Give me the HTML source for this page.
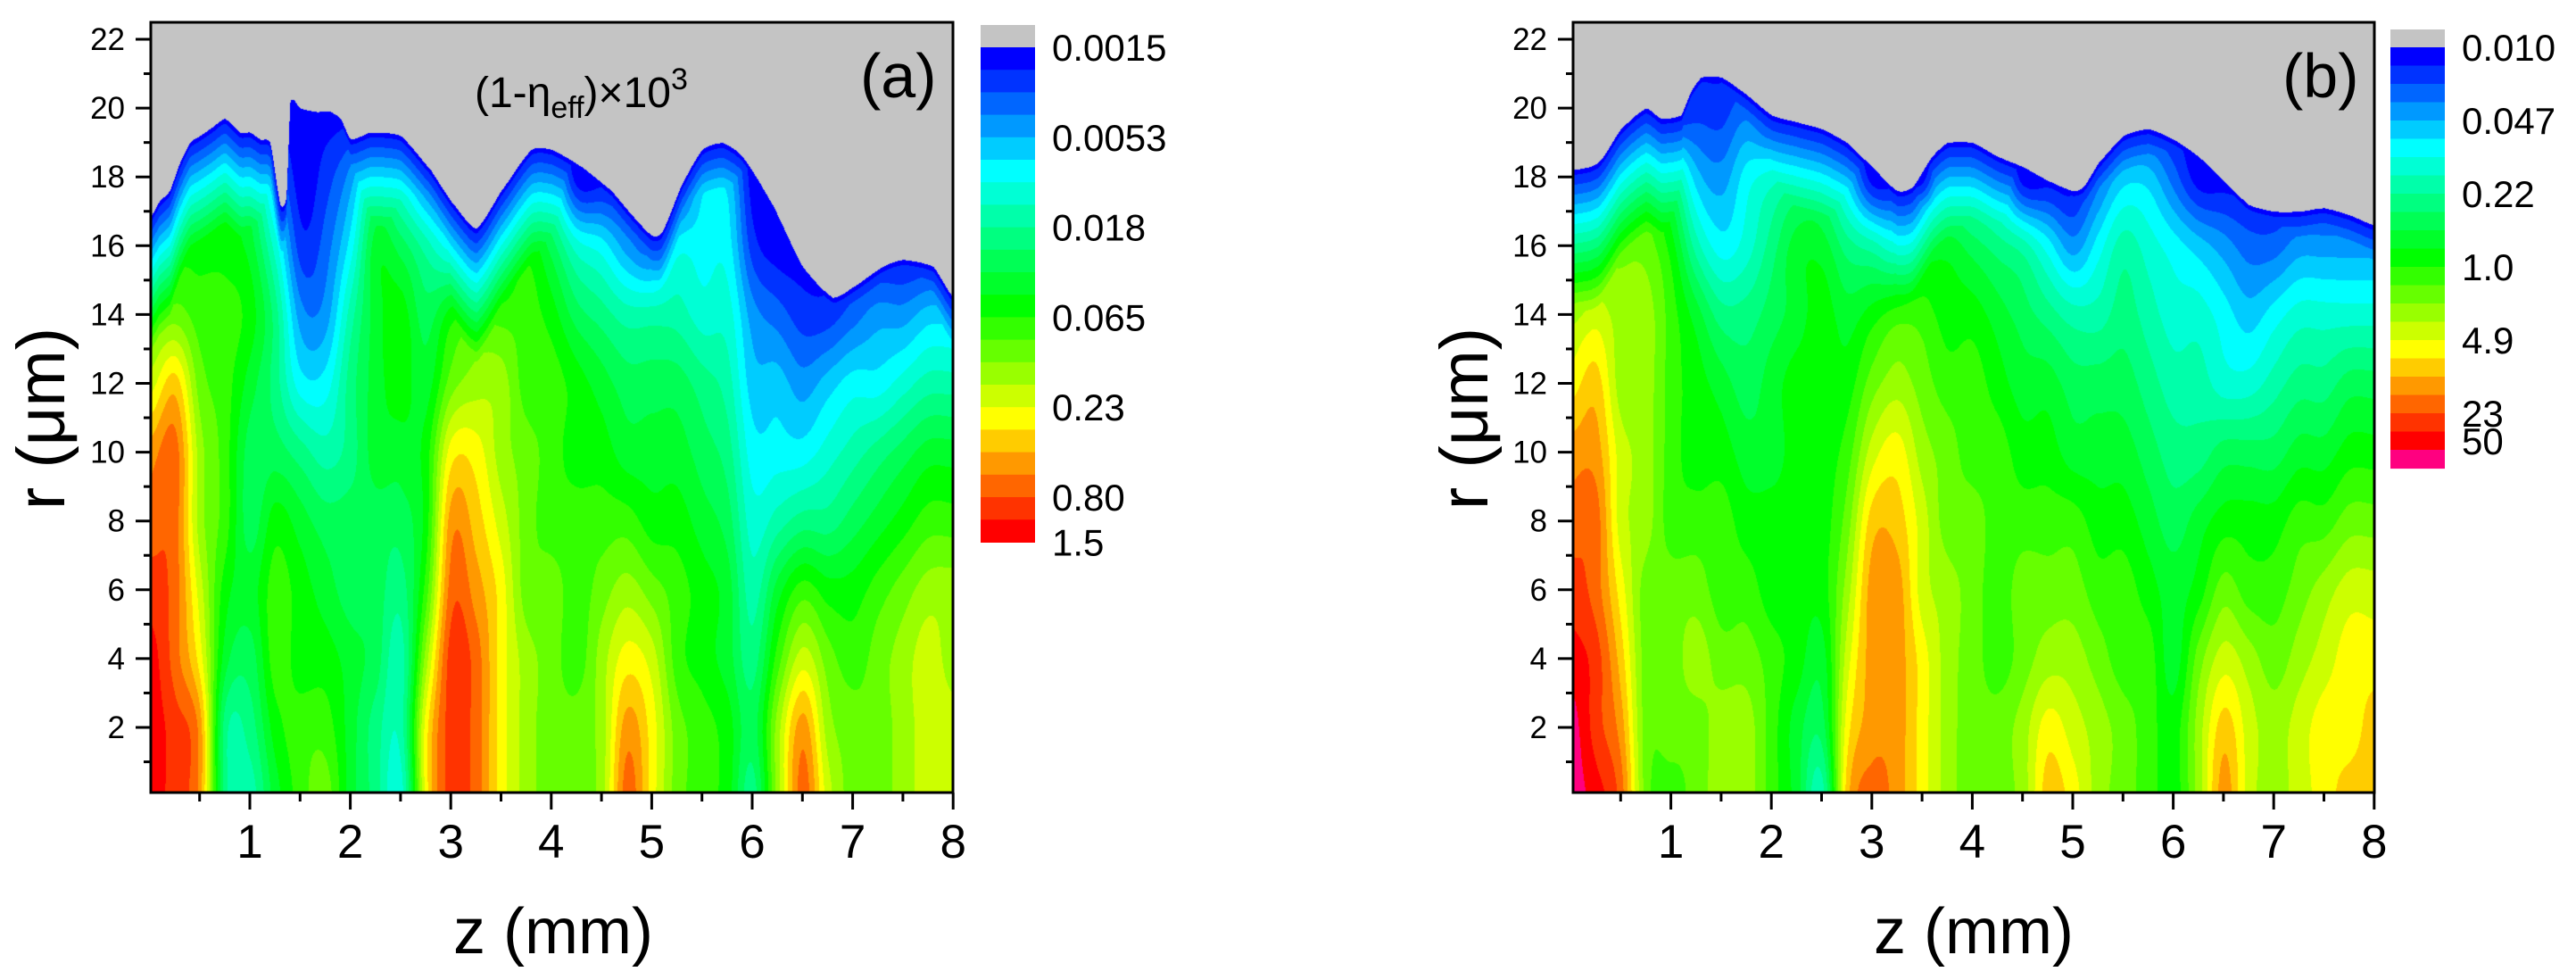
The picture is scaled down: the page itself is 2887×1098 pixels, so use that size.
<!DOCTYPE html>
<html><head><meta charset="utf-8">
<style>
html,body{margin:0;padding:0;background:#fff;}
#wrap{position:relative;width:2887px;height:1098px;overflow:hidden;font-family:"Liberation Sans",Arial,sans-serif;}
canvas{position:absolute;}
svg{position:absolute;left:0;top:0;}
</style></head>
<body>
<div id="wrap">
<canvas id="cA" style="left:169px;top:25px" width="899" height="863"></canvas>
<canvas id="cB" style="left:1763px;top:25px" width="898" height="863"></canvas>
<svg id="ov" width="2887" height="1098"></svg>
</div>
<script>
// ---- data ----
const zCols = [0,0.25,0.5,0.75,1,1.25,1.5,1.75,2,2.25,2.5,2.75,3,3.25,3.5,3.75,4,4.25,4.5,4.75,5,5.25,5.5,5.75,6,6.25,6.5,6.75,7,7.25,7.5,7.75,8];
const rRows = [0,2,4,6,8,10,12,14,16,18,20,22];
const levelsA = [
[21,21,21,20,19,18,15,12,5],
[20,20,19,19,19,19,17,13,10,4],
[18,18,16,15,14,14,13,12,11,9],
[8,8,10,11,12,12,12,12,11,10],
[7,8,9,10,9,9,10,11,10,8],
[10,11,12,12,11,9,8,8,6,3],
[12,12,11,11,10,8,5,3,1,0],
[13,12,11,10,9,7,5,3,2,1],
[10,10,10,9,9,8,8,7,5,3],
[8,8,9,9,9,10,10,10,10,7],
[6,7,7,8,9,10,11,11,9,5],
[16,16,14,12,11,11,10,9,7,2],
[20,20,20,19,18,16,13,11,5],
[19,19,19,18,17,16,14,12,5],
[16,16,16,16,15,14,14,12,8],
[14,14,14,13,13,13,12,12,11,7],
[13,13,13,13,12,12,12,11,9,5],
[13,13,12,12,12,11,11,9,6],
[14,14,14,13,12,11,10,8,5],
[19,18,16,14,12,10,9,7,3],
[16,16,15,13,11,10,9,7,2],
[13,13,12,12,11,10,9,7,5],
[12,12,11,11,10,9,8,6,5,4],
[11,11,10,10,9,8,7,6,5,4],
[8,9,8,7,6,5,4,3,1],
[14,14,12,10,7,5,4,2,0],
[19,18,15,12,8,5,3,1],
[15,14,13,11,8,6,4,1],
[13,13,12,11,9,7,5,2],
[13,13,13,12,10,8,5,3],
[14,14,14,13,11,9,6,3],
[15,15,15,14,12,10,7,4],
[15,15,14,14,12,10,7,4]
];
const levelsB = [
[22,22,21,20,19,18,16,14,9,3],
[21,20,20,19,19,18,17,15,12,6],
[19,18,17,16,15,15,14,14,13,10],
[13,13,13,13,14,14,14,14,13,11],
[12,13,13,13,12,12,12,12,11,8],
[13,13,14,13,12,11,11,10,7,4,1],
[14,14,13,12,12,11,10,8,5,3,1],
[14,14,13,12,11,10,9,8,6,5,2],
[12,12,12,11,11,10,10,9,8,6],
[10,10,11,11,11,11,11,10,10,7],
[7,9,10,11,11,11,11,11,10,7],
[17,16,15,14,13,12,11,10,8,4],
[19,18,18,18,17,15,13,11,7],
[18,18,18,18,17,16,14,12,6],
[16,16,16,15,15,14,13,12,9],
[14,14,14,14,13,13,12,11,10,5],
[13,13,13,13,13,12,12,11,9,5],
[13,13,12,12,12,12,11,10,8,4],
[14,14,13,13,12,11,10,9,7],
[17,16,14,13,12,11,10,8,5],
[16,15,14,13,12,10,9,7,3],
[14,14,13,12,11,10,9,7,5,2],
[13,13,12,12,11,10,9,8,7,4],
[12,12,12,11,10,9,8,7,6,4],
[11,11,10,10,9,8,7,6,5,2],
[14,14,13,11,10,8,7,6,4],
[18,17,15,13,11,9,6,5,3],
[15,15,14,12,11,9,6,4,2],
[14,14,13,12,11,9,7,5,2],
[15,15,14,13,12,10,8,6,3],
[16,16,15,14,12,10,8,6,3],
[17,16,16,15,13,11,9,6,3],
[17,17,16,15,13,11,9,6,3]
];
const topZA = [0,0.1,0.2,0.3,0.4,0.5,0.6,0.75,0.9,1.0,1.1,1.2,1.3,1.36,1.4,1.5,1.65,1.8,1.9,2.0,2.2,2.5,2.8,3.0,3.25,3.5,3.8,4.0,4.3,4.6,4.8,5.0,5.1,5.3,5.5,5.7,5.9,6.2,6.5,6.8,7.0,7.3,7.5,7.8,8.0];
const topRA = [16.8,17.3,17.6,18.4,19.0,19.2,19.4,19.7,19.3,19.3,19.1,19.0,17.2,17.4,20.2,20.0,19.9,19.9,19.7,19.1,19.3,19.2,18.2,17.3,16.5,17.6,18.8,18.8,18.3,17.6,16.9,16.3,16.4,17.8,18.8,19.0,18.6,17.2,15.4,14.5,14.8,15.4,15.6,15.4,14.5];
const topZB = [0,0.2,0.3,0.5,0.75,0.9,1.1,1.2,1.3,1.5,1.75,2.0,2.25,2.5,2.75,3.0,3.25,3.4,3.6,3.75,4.0,4.25,4.5,4.75,5.0,5.1,5.25,5.5,5.75,6.0,6.25,6.5,6.75,7.0,7.25,7.5,7.75,8.0];
const topRB = [18.2,18.3,18.5,19.4,20.0,19.7,19.8,20.5,20.9,20.9,20.4,19.8,19.6,19.4,19.0,18.3,17.6,17.7,18.6,19.0,19.0,18.6,18.3,17.9,17.6,17.7,18.4,19.2,19.4,19.1,18.6,17.9,17.2,17.0,17.0,17.1,16.9,16.6];
const colorsA = ['#0000ff','#0033ff','#0066ff','#0099ff','#00ccff','#00ffff','#00ffd5','#00ffaa','#00ff80','#00ff55','#00ff2b','#00ff00','#33ff00','#66ff00','#99ff00','#ccff00','#ffff00','#ffcc00','#ff9900','#ff6600','#ff3300','#ff0000'];
const colorsB = colorsA.concat(['#ff0080']);
const cbLabelsA = ['0.0015','0.0053','0.018','0.065','0.23','0.80','1.5'];
const cbLabelPosA = [0,4,8,12,16,20,22];
const cbLabelsB = ['0.010','0.047','0.22','1.0','4.9','23','50'];
const cbLabelPosB = [0,4,8,12,16,20,21.5];
const yTicks = [2,4,6,8,10,12,14,16,18,20,22];
const xTicks = [1,2,3,4,5,6,7,8];

// ---- axes ----
const Y0=44, YS=38.55, XS=112.6;
function yOf(r){return Y0+(22-r)*YS;}
function hexRGB(h){return [parseInt(h.substr(1,2),16),parseInt(h.substr(3,2),16),parseInt(h.substr(5,2),16)];}
function cr(p0,p1,p2,p3,t){
  return 0.5*((2*p1)+(-p0+p2)*t+(2*p0-5*p1+4*p2-p3)*t*t+(-p0+3*p1-3*p2+p3)*t*t*t);
}
function interp1(xs,ys,x){
  if(x<=xs[0])return ys[0];
  const n=xs.length;
  for(let i=1;i<n;i++){
    if(x<=xs[i]){
      const t=(x-xs[i-1])/(xs[i]-xs[i-1]);
      const lin=ys[i-1]+t*(ys[i]-ys[i-1]);
      const p0=ys[Math.max(0,i-2)],p3=ys[Math.min(n-1,i+1)];
      const s=cr(p0,ys[i-1],ys[i],p3,t);
      return 0.5*lin+0.5*s;
    }
  }
  return ys[n-1];
}
function cell(lv,c,j){
  c=Math.max(0,Math.min(lv.length-1,c));
  j=Math.max(0,Math.min(rRows.length-1,j));
  const col=lv[c];return j<col.length?col[j]:0;
}
function field(lv,z,r){
  let c=z/0.25; c=Math.max(0,Math.min(zCols.length-1.0001,c));
  let j=r/2; j=Math.max(0,Math.min(rRows.length-1.0001,j));
  const c0=Math.floor(c),j0=Math.floor(j),tc=c-c0,tj=j-j0;
  const rows=[];
  for(let dj=-1;dj<=2;dj++){
    const jj=j0+dj;
    rows.push(cr(cell(lv,c0-1,jj),cell(lv,c0,jj),cell(lv,c0+1,jj),cell(lv,c0+2,jj),tc));
  }
  return cr(rows[0],rows[1],rows[2],rows[3],tj);
}
function drawContour(id,x0canvas,zOrigin,lv,tz,tr,colors){
  const cv=document.getElementById(id),ctx=cv.getContext('2d');
  const W=cv.width,H=cv.height,img=ctx.createImageData(W,H),d=img.data;
  const rgb=colors.map(hexRGB);
  for(let px=0;px<W;px++){
    const z=(x0canvas+px-zOrigin)/XS;
    const rt=interp1(tz,tr,z);
    for(let py=0;py<H;py++){
      const r=22-(25+py-Y0)/YS;
      let c;
      if(r>rt){c=[196,196,196];}
      else{
        let k=field(lv,z,r);
        k=Math.min(k,(rt-r)*3.5);
        k=Math.max(0,Math.min(colors.length-1,Math.round(k)));
        c=rgb[k];
      }
      const i=(py*W+px)*4;d[i]=c[0];d[i+1]=c[1];d[i+2]=c[2];d[i+3]=255;
    }
  }
  ctx.putImageData(img,0,0);
}
drawContour('cA',169,167.4,levelsA,topZA,topRA,colorsA);
drawContour('cB',1763,1760,levelsB,topZB,topRB,colorsB);

const NS='http://www.w3.org/2000/svg',ov=document.getElementById('ov');
function mk(tag,attrs,parent){const e=document.createElementNS(NS,tag);for(const k in attrs)e.setAttribute(k,attrs[k]);(parent||ov).appendChild(e);return e;}
function panel(p){
  const g=mk('g',{});
  
  
  const fr=mk('rect',{x:p.left,y:25,width:p.right-p.left,height:863,fill:'none',stroke:'#000','stroke-width':3},g);
  
  
  for(let r=1;r<=22;r++){
    const y=yOf(r),maj=(r%2===0);
    const t=mk('line',{x1:p.left-(maj?17:8),x2:p.left,y1:y,y2:y,stroke:'#000','stroke-width':3},g);
    
    
  }
  yTicks.forEach(v=>{
    const t=mk('text',{x:p.left-29,y:yOf(v)+12,'font-size':35,'text-anchor':'end'},g);t.textContent=v;
    
    
  });
  for(let z=0.5;z<=8;z+=0.5){
    const x=p.z0+z*XS,maj=(z%1===0);
    const t=mk('line',{x1:x,x2:x,y1:888,y2:888+(maj?19:10),stroke:'#000','stroke-width':3},g);
    
    
  }
  xTicks.forEach(v=>{
    const t=mk('text',{x:p.z0+v*XS,y:961,'font-size':53,'text-anchor':'middle'},g);t.textContent=v;
    
    
  });
  const xt=mk('text',{x:p.xtx,y:1068,'font-size':72,'text-anchor':'middle'},g);xt.textContent='z (mm)';
  
  
  const yt=mk('text',{x:0,y:0,'font-size':76,'text-anchor':'middle',transform:'translate('+(p.ytx+26)+',469) rotate(-90)'},g);yt.textContent='r (\u03bcm)';
  
  
  const pl=mk('text',{x:p.lblx,y:109,'font-size':70},g);pl.textContent=p.label;
  
  
  const cb=mk('g',{},g);
  
  
  const gr=mk('rect',{x:p.cbx,y:p.cbTop,width:61,height:53-p.cbTop,fill:'#c4c4c4'},cb);
  
  
  p.colors.forEach((c,i)=>{
    const s=mk('rect',{x:p.cbx,y:53+i*p.bh,width:61,height:p.bh+0.6,fill:c},cb);
    
    
  });
  p.labels.forEach((l,i)=>{
    const t=mk('text',{x:p.cbx+80,y:53+p.lpos[i]*p.bh+15,'font-size':42},cb);t.textContent=l;
    
    
  });
}
panel({id:'a',left:169,right:1068,z0:167.4,xtx:620,ytx:46,lblx:964,label:'(a)',cbx:1099,cbTop:28,bh:25.2,colors:colorsA,labels:cbLabelsA,lpos:cbLabelPosA});
panel({id:'b',left:1763,right:2661,z0:1760,xtx:2212,ytx:1641,lblx:2558,label:'(b)',cbx:2679,cbTop:33,bh:20.5,colors:colorsB,labels:cbLabelsB,lpos:cbLabelPosB});

const ann=mk('text',{x:532,y:120,'font-size':48});


const t1=mk('tspan',{},ann);t1.textContent='(1-\u03b7';
const t2=mk('tspan',{dy:12,'font-size':34},ann);t2.textContent='eff';
const t3=mk('tspan',{dy:-12},ann);t3.textContent=')\u00d710';
const t4=mk('tspan',{dy:-20,'font-size':34},ann);t4.textContent='3';
</script>
</body></html>
